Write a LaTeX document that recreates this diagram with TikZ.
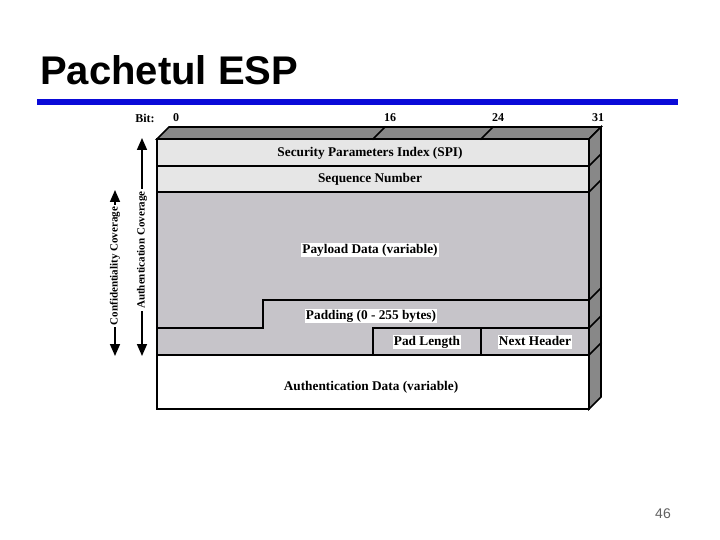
\documentclass[tikz,border=0pt]{standalone}
\usepackage{fontspec}
\setmainfont{Liberation Serif}
\newfontfamily\titlefont{Liberation Sans}
\usetikzlibrary{arrows.meta}
\definecolor{barblue}{HTML}{0A0AD8}
\definecolor{facegray}{HTML}{888888}
\definecolor{rowlight}{HTML}{E6E6E6}
\definecolor{rowgray}{HTML}{C6C4C9}
\definecolor{pagegray}{HTML}{606060}
\begin{document}
\begin{tikzpicture}[x=1pt,y=-1pt,
  edge/.style={line width=1.6pt,line cap=rect,line join=miter},
  thickedge/.style={line width=2.3pt,line join=miter},
  fieldlbl/.style={font=\bfseries\fontsize{13.3}{15}\selectfont,inner sep=1pt,text height=9.5pt,text depth=3pt},
  whitelbl/.style={fieldlbl,fill=white},
  bitlbl/.style={font=\bfseries\fontsize{12}{14}\selectfont,inner sep=0pt},
  covlbl/.style={font=\bfseries\fontsize{11}{13}\selectfont,rotate=90,fill=white,inner sep=2pt},
  covarrow/.style={line width=1.6pt,{Triangle[width=10pt,length=12pt]}-{Triangle[width=10pt,length=12pt]}}
]
\useasboundingbox (0,0) rectangle (720,540);
\fill[white] (0,0) rectangle (720,540);

% title and bar
\node[anchor=base west,inner sep=0pt,font=\titlefont\bfseries\fontsize{40}{44}\selectfont] (title) at (40,85) {Pachetul ESP};
\fill[barblue] (37,99) rectangle (678,105);

% row fills
\fill[rowlight] (157,139) rectangle (589,192);
\fill[rowgray] (157,192) rectangle (589,355);
\fill[white] (157,355) rectangle (589,409);

% top and side faces
\filldraw[fill=facegray,edge] (157,139) -- (169,127) -- (601,127) -- (589,139) -- cycle;
\filldraw[fill=facegray,edge] (589,139) -- (601,127) -- (601,397) -- (589,409) -- cycle;
\draw[edge] (373,139) -- (385,127);
\draw[edge] (481,139) -- (493,127);
\foreach \yy in {166,192,300,328,355} \draw[edge] (589,\yy) -- (601,\yy-12);

% front rows
\draw[edge] (157,139) rectangle (589,409);
\draw[edge] (157,166) -- (589,166);
\draw[thickedge] (157,192) -- (589,192);
\draw[thickedge] (157,328) -- (263,328) -- (263,300) -- (589,300);
\draw[edge] (373,355) -- (373,328) -- (589,328);
\draw[edge] (481,328) -- (481,355);
\draw[edge] (157,355) -- (589,355);

% field labels
\node[fieldlbl] (spi) at (370,153) {Security Parameters Index (SPI)};
\node[fieldlbl] (seq) at (370,179) {Sequence Number};
\node[whitelbl] (payload) at (370,250) {Payload Data (variable)};
\node[whitelbl] (padding) at (371,316) {Padding (0 - 255 bytes)};
\node[whitelbl] (padlen) at (427,342) {Pad Length};
\node[whitelbl] (nexthdr) at (535,342) {Next Header};
\node[fieldlbl] (authdata) at (371,387) {Authentication Data (variable)};

% bit labels
\node[bitlbl] (bitword) at (145,118) {Bit:};
\node[bitlbl] (b0) at (176,118) {0};
\node[bitlbl] (b16) at (390,118) {16};
\node[bitlbl] (b24) at (498,118) {24};
\node[bitlbl] (b31) at (598,118) {31};

% coverage arrows
\coordinate (confT) at (115,190);
\coordinate (confB) at (115,356);
\coordinate (authT) at (142,138);
\coordinate (authB) at (142,356);
\draw[covarrow] (confB) -- (confT);
\draw[covarrow] (authB) -- (authT);
\node[covlbl] (conflbl) at (115,266) {Confidentiality Coverage};
\node[covlbl] (authlbl) at (142,250) {Authentication Coverage};

% page number
\node[font=\titlefont\fontsize{14}{16}\selectfont,text=pagegray,inner sep=0pt] (pagenum) at (663,514) {46};
\end{tikzpicture}
\end{document}
